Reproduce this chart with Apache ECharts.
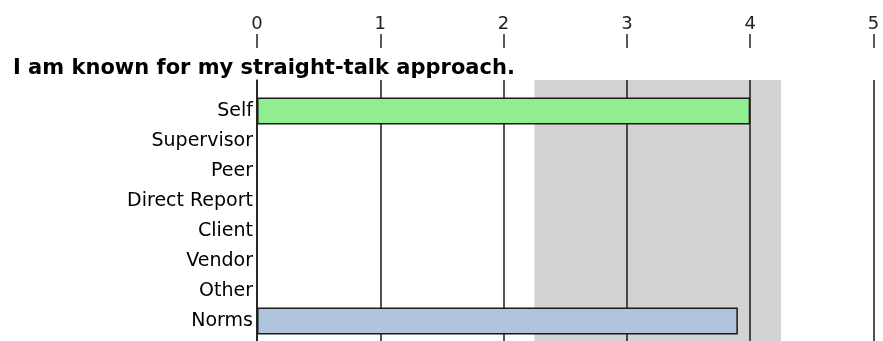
<!DOCTYPE html>
<html>
<head>
<meta charset="utf-8">
<script src="https://cdn.jsdelivr.net/npm/echarts@6/dist/echarts.min.js"></script>
<style>
  html, body { margin: 0; padding: 0; background: #fff; }
  #chart { width: 883px; height: 341px; }
</style>
</head>
<body>
<div id="chart"></div>
<script>
const titleText = 'I am known for my straight-talk approach.';
const categories = ['Self', 'Supervisor', 'Peer', 'Direct Report', 'Client', 'Vendor', 'Other', 'Norms'];
const scores = [4, null, null, null, null, null, null, 3.9];
const normBand = [2.25, 4.25];   // shaded norm range
const axisMin = 0;
const axisMax = 5;

const barColors = { Self: '#90EE90', Norms: '#B0C4DE' };
const font = 'DejaVu Sans';

const chart = echarts.init(document.getElementById('chart'), null, { renderer: 'canvas' });

const option = {
  animation: false,
  backgroundColor: '#fff',
  title: {
    text: titleText,
    left: 13,
    top: 58,
    padding: 0,
    textStyle: { fontFamily: font, fontSize: 21, fontWeight: 'bold', color: '#000' }
  },
  grid: [
    // frame: gridlines, ticks, shaded band
    { left: 257, right: 9.5, top: 80, bottom: 0, outerBoundsMode: 'none' },
    // bars and category labels
    { left: 257, right: 9.5, top: 96, height: 240, outerBoundsMode: 'none' }
  ],
  xAxis: [
    {
      gridIndex: 0,
      type: 'value',
      position: 'top',
      offset: 32,
      min: axisMin,
      max: axisMax,
      interval: 1,
      z: 1,
      axisLine: { show: false },
      axisTick: { show: true, length: 14, inside: false, lineStyle: { color: '#222', width: 1.5 } },
      axisLabel: { margin: 15, fontFamily: font, fontSize: 18, color: '#222' },
      splitLine: { show: true, lineStyle: { color: '#1a1a1a', width: 1.5 } }
    },
    {
      gridIndex: 1,
      type: 'value',
      min: axisMin,
      max: axisMax,
      show: false
    }
  ],
  yAxis: [
    {
      gridIndex: 0,
      type: 'category',
      data: ['band'],
      axisLine: { show: true, lineStyle: { color: '#1a1a1a', width: 1.5 } },
      axisTick: { show: false },
      axisLabel: { show: false }
    },
    {
      gridIndex: 1,
      type: 'category',
      inverse: true,
      data: categories,
      axisLine: { show: false },
      axisTick: { show: false },
      axisLabel: { margin: 4, fontFamily: font, fontSize: 19, color: '#000' }
    }
  ],
  series: [
    {
      name: 'bandStart',
      type: 'bar',
      xAxisIndex: 0,
      yAxisIndex: 0,
      stack: 'band',
      z: 0,
      barWidth: '100%',
      silent: true,
      itemStyle: { color: 'rgba(0,0,0,0)' },
      data: [normBand[0]]
    },
    {
      name: 'band',
      type: 'bar',
      xAxisIndex: 0,
      yAxisIndex: 0,
      stack: 'band',
      z: 0,
      barWidth: '100%',
      silent: true,
      itemStyle: { color: '#D3D3D3' },
      data: [normBand[1] - normBand[0]]
    },
    {
      name: 'score',
      type: 'bar',
      xAxisIndex: 1,
      yAxisIndex: 1,
      z: 3,
      barWidth: 27,
      itemStyle: {
        color: p => barColors[p.name] || '#ccc',
        borderColor: '#1a1a1a',
        borderWidth: 1.5
      },
      data: scores
    }
  ]
};

chart.setOption(option);
</script>
</body>
</html>
